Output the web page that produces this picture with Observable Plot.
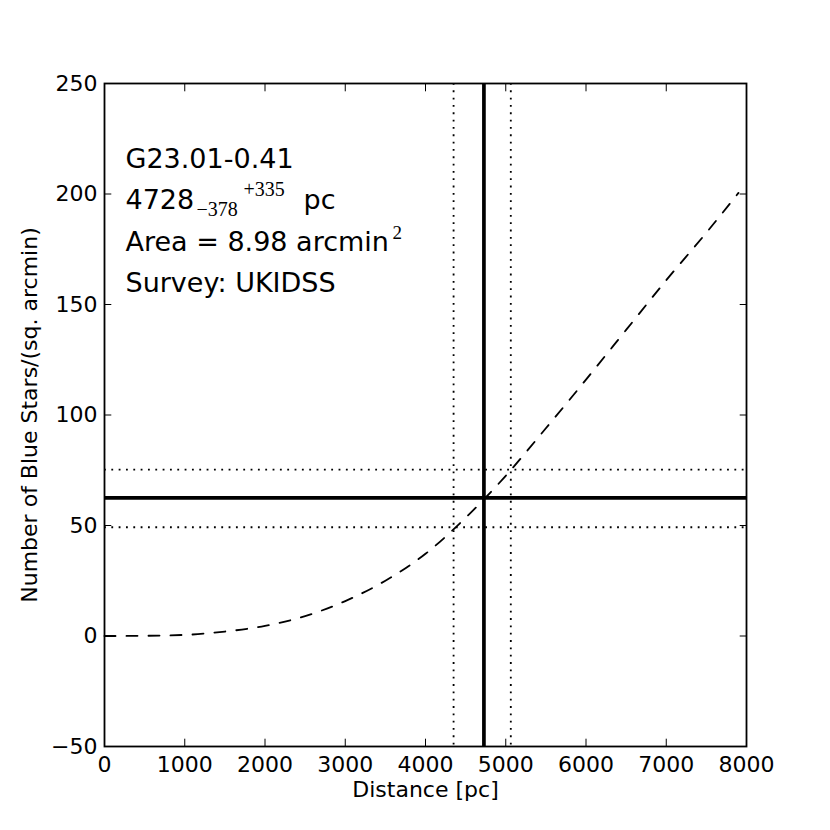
<!DOCTYPE html>
<html><head><meta charset="utf-8">
<script src="https://cdn.jsdelivr.net/npm/d3@7"></script>
<script src="https://cdn.jsdelivr.net/npm/@observablehq/plot@0.6"></script>
<style>body{margin:0;background:#fff;}</style>
</head><body><div id="chart"></div>
<script>
// Model curve: number of blue stars per sq. arcmin vs distance
const distances = [0, 500, 1000, 1500, 2000, 2500, 3000, 3500, 4000, 4500, 5000, 5500, 6000, 6500, 7000, 7500, 7900];
const counts    = [0, 0.1, 0.5, 2.0, 4.6, 9.0, 15.8, 25.0, 37.2, 53.5, 72.5, 94, 116, 138.5, 161, 182.5, 200.5];

const xTicks = [0, 1000, 2000, 3000, 4000, 5000, 6000, 7000, 8000];
const yTicks = [-50, 0, 50, 100, 150, 200, 250];

const bestDistance = [4728];
const distanceBounds = [4350, 5063];
const bestCount = [62.5];
const countBounds = [49.2, 75.3];

const sourceName = ["G23.01-0.41"];
const distanceText = ["4728"];
const distanceLow = ["\u2212378"];
const distanceHigh = ["+335"];
const distanceUnit = ["pc"];
const areaText = ["Area = 8.98 arcmin"];
const areaPower = ["2"];
const surveyText = ["Survey: UKIDSS"];
const xLabel = ["Distance [pc]"];
const yLabel = ["Number of Blue Stars/(sq. arcmin)"];

const data = distances.map((d, i) => ({distance: d, count: counts[i]}));
const sans = "DejaVu Sans";
const serif = "Liberation Serif";
const tickLen = -7.3;
const numFmt = d => (d < 0 ? "\u2212" : "") + Math.abs(d);

const chart = Plot.plot({
  width: 830, height: 830,
  marginLeft: 104, marginRight: 84, marginTop: 83, marginBottom: 84,
  style: {fontFamily: sans, fontSize: "22px", color: "black", background: "white"},
  x: {domain: [0, 8000]},
  y: {domain: [-50, 250]},
  marks: [
    Plot.line(data, {x: "distance", y: "count", stroke: "black", strokeWidth: 1.83, strokeDasharray: "11,11", curve: "monotone-x"}),
    Plot.ruleX(distanceBounds, {stroke: "black", strokeWidth: 1.83, strokeDasharray: "1.83,5.5"}),
    Plot.ruleY(countBounds, {stroke: "black", strokeWidth: 1.83, strokeDasharray: "1.83,5.5"}),
    Plot.ruleX(bestDistance, {stroke: "black", strokeWidth: 3.7}),
    Plot.ruleY(bestCount, {stroke: "black", strokeWidth: 3.7}),
    Plot.frame({stroke: "black", strokeWidth: 1.8}),
    Plot.axisX(xTicks, {anchor: "bottom", tickSize: 0, tickPadding: 10, tickFormat: numFmt, label: null, fontSize: 22, fontFamily: sans}),
    Plot.axisX(xTicks, {anchor: "bottom", tickSize: tickLen, tickFormat: () => "", label: null}),
    Plot.axisX(xTicks, {anchor: "top", tickSize: tickLen, tickFormat: () => "", label: null}),
    Plot.axisY(yTicks, {anchor: "left", tickSize: 0, tickPadding: 7, tickFormat: numFmt, label: null, fontSize: 22, fontFamily: sans}),
    Plot.axisY(yTicks, {anchor: "left", tickSize: tickLen, tickFormat: () => "", label: null}),
    Plot.axisY(yTicks, {anchor: "right", tickSize: tickLen, tickFormat: () => "", label: null}),
    Plot.text(xLabel, {text: d => d, frameAnchor: "bottom", textAnchor: "middle", lineAnchor: "bottom", dy: 50, fontSize: 22, fontFamily: sans}),
    Plot.text(yLabel, {text: d => d, frameAnchor: "left", textAnchor: "middle", lineAnchor: "middle", rotate: -90, dx: -74.5, fontSize: 22, fontFamily: sans}),
    Plot.text(sourceName, {text: d => d, frameAnchor: "top-left", textAnchor: "start", lineAnchor: "bottom", dx: 21, dy: 84, fontSize: 27, fontFamily: sans}),
    Plot.text(distanceText, {text: d => d, frameAnchor: "top-left", textAnchor: "start", lineAnchor: "bottom", dx: 21, dy: 125, fontSize: 27, fontFamily: sans}),
    Plot.text(distanceLow, {text: d => d, frameAnchor: "top-left", textAnchor: "start", lineAnchor: "bottom", dx: 92, dy: 132, fontSize: 20, fontFamily: serif}),
    Plot.text(distanceHigh, {text: d => d, frameAnchor: "top-left", textAnchor: "start", lineAnchor: "bottom", dx: 139, dy: 112, fontSize: 20, fontFamily: serif}),
    Plot.text(distanceUnit, {text: d => d, frameAnchor: "top-left", textAnchor: "start", lineAnchor: "bottom", dx: 199, dy: 125, fontSize: 27, fontFamily: sans}),
    Plot.text(areaText, {text: d => d, frameAnchor: "top-left", textAnchor: "start", lineAnchor: "bottom", dx: 21, dy: 167, fontSize: 27, fontFamily: sans}),
    Plot.text(areaPower, {text: d => d, frameAnchor: "top-left", textAnchor: "start", lineAnchor: "bottom", dx: 288, dy: 155, fontSize: 19, fontFamily: serif}),
    Plot.text(surveyText, {text: d => d, frameAnchor: "top-left", textAnchor: "start", lineAnchor: "bottom", dx: 21, dy: 208, fontSize: 27, fontFamily: sans})
  ]
});
document.getElementById("chart").appendChild(chart);
</script>
</body></html>
